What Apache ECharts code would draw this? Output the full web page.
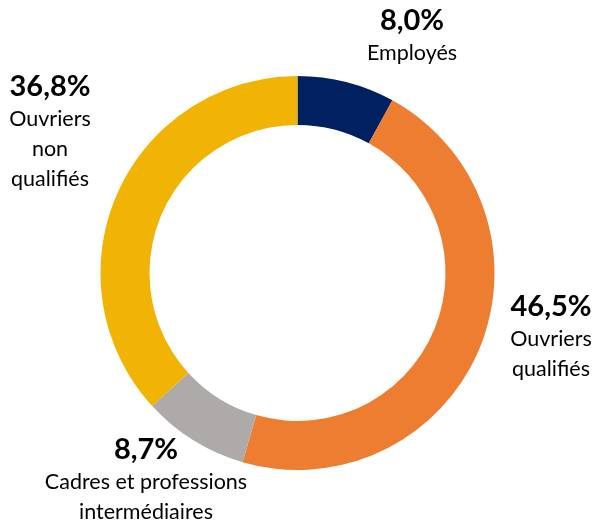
<!DOCTYPE html>
<html><head><meta charset="utf-8">
<script src="https://cdn.jsdelivr.net/npm/echarts@6/dist/echarts.min.js"></script>
<style>html,body{margin:0;padding:0;background:#fff}#c{width:595px;height:522px}</style>
</head><body><div id="c"></div>
<script>
const categories = ["Employés", "Ouvriers qualifiés", "Cadres et professions intermédiaires", "Ouvriers non qualifiés"];
const labelLines = ["Employés", "Ouvriers\nqualifiés", "Cadres et professions\nintermédiaires", "Ouvriers\nnon\nqualifiés"];
const values = [8.0, 46.5, 8.7, 36.8];
const colors = ["#002060", "#ED7D31", "#AEAAAA", "#F1B404"];
const labelPos = [[412, 36], [551, 337], [146, 480], [50, 132]];

const chart = echarts.init(document.getElementById('c'), null, {renderer: 'canvas'});
chart.setOption({
  animation: false,
  series: [{
    type: 'pie',
    center: [297.5, 273],
    radius: [148, 197],
    startAngle: 90,
    clockwise: true,
    avoidLabelOverlap: false,
    labelLine: {show: false},
    itemStyle: {borderWidth: 0},
    emphasis: {disabled: true},
    data: categories.map((c, i) => ({name: c, value: values[i], itemStyle: {color: colors[i]}})),
    label: {
      show: true,
      position: 'outside',
      fontFamily: 'Lato',
      align: 'center',
      formatter: p => '{p|' + values[p.dataIndex].toFixed(1).replace('.', ',') + '%}\n{n|' + labelLines[p.dataIndex].split('\n').join('}\n{n|') + '}',
      rich: {
        p: {fontFamily: 'Lato', fontWeight: 'bold', fontSize: 29, color: '#000', lineHeight: 34, align: 'center'},
        n: {fontFamily: 'Lato', fontSize: 21.5, color: '#000', lineHeight: 30, align: 'center'}
      }
    },
    labelLayout: p => ({x: labelPos[p.dataIndex][0], y: labelPos[p.dataIndex][1], align: 'center', verticalAlign: 'middle'})
  }]
});
</script></body></html>
